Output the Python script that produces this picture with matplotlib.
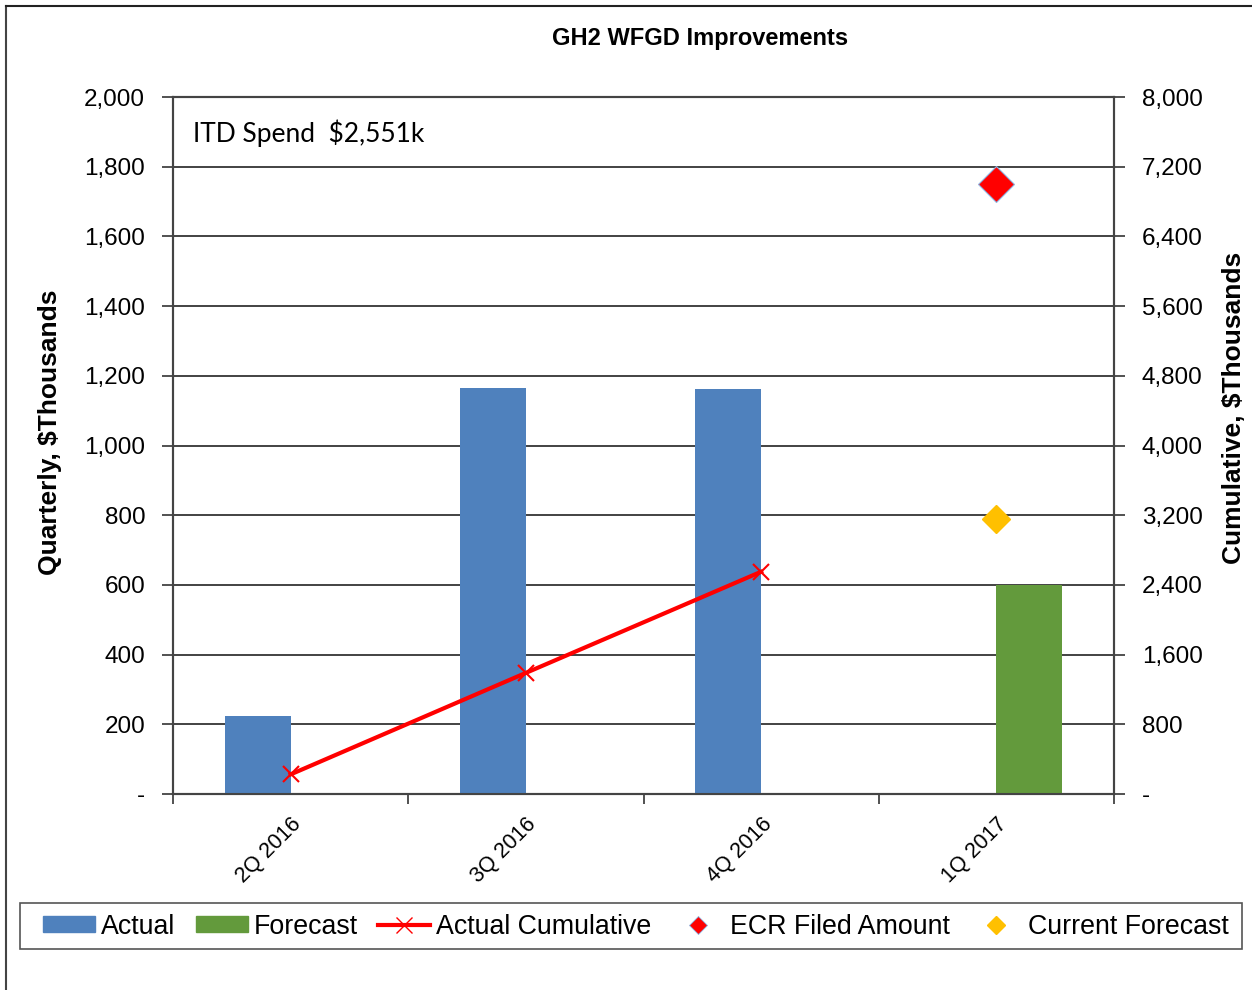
import matplotlib.pyplot as plt
from matplotlib.lines import Line2D
from matplotlib.patches import Patch, Rectangle
from matplotlib.ticker import FuncFormatter

quarters = ["2Q 2016", "3Q 2016", "4Q 2016", "1Q 2017"]
actual = [225, 1165, 1161, 0]
forecast = [0, 0, 0, 600]
actual_cum = [225, 1390, 2551]
ecr_filed = 7000
current_forecast = 3151

plt.rcParams["font.family"] = ["Liberation Sans", "DejaVu Sans"]


def fmt(v, pos):
    if v == 0:
        return "-"
    return f"{v:,.0f}"


fig = plt.figure(figsize=(12.52, 9.9), dpi=100)
ax = fig.add_axes([0.1382, 0.1980, 0.7516, 0.7040])
ax2 = ax.twinx()

x = list(range(len(quarters)))
w = 0.28
ax.bar([i - w / 2 for i in x], actual, width=w, color="#4F81BD", zorder=3)
ax.bar([i + w / 2 for i in x], forecast, width=w, color="#639A3C", zorder=3)

ax2.plot(x[:len(actual_cum)], actual_cum, color="red", linewidth=3,
         marker="x", markersize=12, markeredgewidth=1.5, zorder=4)
ax2.plot([3], [ecr_filed], linestyle="none", marker="D", markersize=18,
         color="red", markeredgecolor="#8DB4E2", markeredgewidth=0.8, zorder=5)
ax2.plot([3], [current_forecast], linestyle="none", marker="D", markersize=14,
         color="#FFC000", markeredgecolor="#FFC000", zorder=5)

ax.set_xlim(-0.5, 3.5)
ax.set_ylim(0, 2000)
ax2.set_ylim(0, 8000)
ax.set_yticks(range(0, 2001, 200))
ax2.set_yticks(range(0, 8001, 800))
ax.yaxis.set_major_formatter(FuncFormatter(fmt))
ax2.yaxis.set_major_formatter(FuncFormatter(fmt))
ax.grid(axis="y", color="#222222", linewidth=1.2, zorder=0)
ax.set_axisbelow(True)

# category boundaries get the tick marks, labels sit in between
ax.set_xticks([i + 0.5 for i in [-1] + x])
ax.set_xticklabels([])
ax.set_xticks(x, minor=True)
ax.set_xticklabels(quarters, minor=True, rotation=45, ha="right",
                   rotation_mode="anchor", fontsize=15.5)
ax.tick_params(axis="x", which="minor", length=0, pad=14)
ax.tick_params(axis="x", which="major", length=7, width=1.2, color="#333333")
ax.tick_params(axis="y", labelsize=17.5, length=8, width=1.2, pad=12, color="#333333")
ax2.tick_params(axis="y", labelsize=17.5, length=8, width=1.2, pad=12, color="#333333")

for a in (ax, ax2):
    for s in a.spines.values():
        s.set_linewidth(1.5)
        s.set_color("#444444")

ax.set_ylabel("Quarterly, $Thousands", fontsize=19, fontweight="bold")
ax2.set_ylabel("Cumulative, $Thousands", fontsize=19, fontweight="bold")
ax.yaxis.set_label_coords(-0.118, 0.519)
ax2.yaxis.set_label_coords(1.115, 0.554)

fig.text(700 / 1252, 1 - 38 / 990, "GH2 WFGD Improvements", ha="center",
         va="center", fontsize=17, fontweight="bold")
ax.text(0.021, 0.948, "ITD Spend  $2,551k", transform=ax.transAxes,
        ha="left", va="center", fontsize=19, family=["Lato", "DejaVu Sans"])

handles = [
    Patch(color="#4F81BD", label="Actual"),
    Patch(color="#639A3C", label="Forecast"),
    Line2D([], [], color="red", linewidth=3, marker="x", markersize=11,
           label="Actual Cumulative"),
    Line2D([], [], linestyle="none", color="red", marker="D", markersize=9,
           markeredgecolor="#8DB4E2", markeredgewidth=0.6,
           label="ECR Filed Amount"),
    Line2D([], [], linestyle="none", color="#FFC000", marker="D", markersize=9,
           label="Current Forecast"),
]
fig.legend(handles=handles, loc="lower left", ncol=5, mode="expand",
           bbox_to_anchor=(34 / 1252, 1 - 949 / 990, 1204 / 1252, 46 / 990),
           fontsize=19.3, frameon=False,
           handlelength=1.94, handleheight=0.55, handletextpad=0.22,
           columnspacing=0.8, borderaxespad=0, borderpad=0.35)
fig.add_artist(Rectangle((20 / 1252, 1 - 949 / 990), 1222 / 1252, 46 / 990,
                         transform=fig.transFigure, fill=False,
                         edgecolor="#555555", linewidth=1.2))

# outer chart border (left and top visible)
fig.add_artist(Line2D([6 / 1252, 6 / 1252], [0, 1 - 6 / 990], color="#444444", linewidth=1.5))
fig.add_artist(Line2D([6 / 1252, 1], [1 - 6 / 990, 1 - 6 / 990], color="#222222", linewidth=1.5))

fig.savefig("out.png", dpi=100)
